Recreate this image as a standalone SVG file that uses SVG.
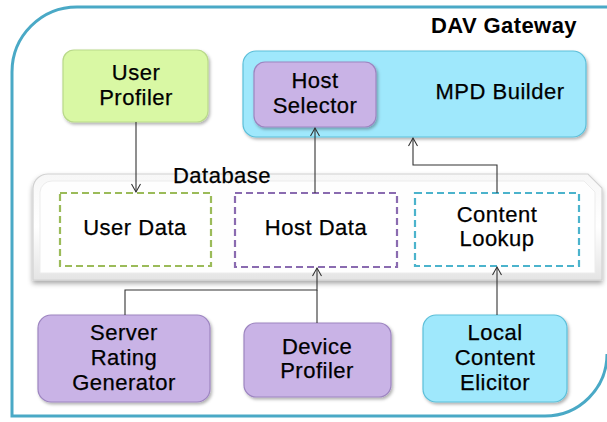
<svg xmlns="http://www.w3.org/2000/svg" width="607" height="422" viewBox="0 0 607 422">
<defs>
<style>
text{font-family:"Liberation Sans",Arial,sans-serif;font-size:22px;fill:#000;text-anchor:middle;letter-spacing:0.5px;stroke:#000;stroke-width:0.25}
.title{font-weight:bold;font-size:22px;letter-spacing:0.4px;stroke:none}
.conn{fill:none;stroke:#333;stroke-width:1.1}
.green{fill:#d9f8a4;stroke:#b9d98a;stroke-width:1.2}
.cyan{fill:#9fe8fc;stroke:#5cbfd9;stroke-width:1.2}
.lav{fill:#c9b3e6;stroke:#9d85c0;stroke-width:1.2}
.dash{fill:#fff;stroke-width:2.2;stroke-dasharray:7,4}
</style>
<marker id="arr" markerWidth="12" markerHeight="12" refX="10" refY="6" orient="auto" markerUnits="userSpaceOnUse">
<path d="M2,1.5 L10,6 L2,10.5" fill="none" stroke="#333" stroke-width="1.1"/>
</marker>
<filter id="sh" x="-10%" y="-10%" width="125%" height="130%">
<feDropShadow dx="1.5" dy="2" stdDeviation="1.5" flood-color="#000" flood-opacity="0.3"/>
</filter>
<filter id="dbsh" x="-5%" y="-10%" width="110%" height="130%">
<feDropShadow dx="0" dy="3" stdDeviation="2.5" flood-color="#000" flood-opacity="0.35"/>
</filter>
<linearGradient id="dbg" x1="0" y1="0" x2="0" y2="1">
<stop offset="0" stop-color="#f7f7f7"/>
<stop offset="0.5" stop-color="#ffffff"/>
<stop offset="1" stop-color="#e4e4e4"/>
</linearGradient>
</defs>

<g id="gateway">
<path d="M607,7 L77,7 A65,65 0 0 0 12,72 L12,416 L545,416 A62,62 0 0 0 607,354" fill="#fff" stroke="#4aa9c6" stroke-width="3"/>
<text class="title" x="504" y="33">DAV Gateway</text>
</g>

<g id="database">
<path d="M33,188 A15,15 0 0 1 48,174 L588,174 L602,188 L602,280 L33,280 Z" fill="url(#dbg)" stroke="#d2d2d2" stroke-width="1.2" filter="url(#dbsh)"/>
<path d="M40,192 A12,12 0 0 1 52,181 L584,181 L595,192 L595,273 L40,273 Z" fill="#fefefe" stroke="#ececec" stroke-width="1"/>
<text x="222" y="183">Database</text>
</g>

<g id="user-profiler">
<rect class="green" x="63" y="50" width="145" height="72" rx="11" filter="url(#sh)"/>
<text x="136" y="80">User</text>
<text x="136" y="105">Profiler</text>
</g>

<g id="mpd-builder">
<rect class="cyan" x="243" y="51" width="343" height="86" rx="13" filter="url(#sh)"/>
<text x="500" y="99">MPD Builder</text>
</g>

<g id="host-selector">
<rect class="lav" x="254" y="62" width="122" height="65" rx="11" filter="url(#sh)"/>
<text x="315" y="88">Host</text>
<text x="315" y="113">Selector</text>
</g>

<g id="user-data">
<rect class="dash" x="60" y="193" width="151" height="73" stroke="#9bbb59"/>
<text x="135" y="235">User Data</text>
</g>

<g id="host-data">
<rect class="dash" x="235" y="193" width="162" height="74" stroke="#8a6bb0"/>
<text x="316" y="235">Host Data</text>
</g>

<g id="content-lookup">
<rect class="dash" x="415" y="193" width="164" height="73" stroke="#4bb3cc"/>
<text x="497" y="222">Content</text>
<text x="497" y="246">Lookup</text>
</g>

<g id="server-rating-generator">
<rect class="lav" x="38" y="315" width="172" height="87" rx="13" filter="url(#sh)"/>
<text x="124" y="340">Server</text>
<text x="124" y="365">Rating</text>
<text x="124" y="390">Generator</text>
</g>

<g id="device-profiler">
<rect class="lav" x="244" y="323" width="147" height="74" rx="12" filter="url(#sh)"/>
<text x="317" y="354">Device</text>
<text x="317" y="378">Profiler</text>
</g>

<g id="local-content-elicitor">
<rect class="cyan" x="423" y="315" width="144" height="87" rx="13" filter="url(#sh)"/>
<text x="495" y="340">Local</text>
<text x="495" y="365">Content</text>
<text x="495" y="390">Elicitor</text>
</g>

<g id="connectors">
<path class="conn" d="M136,122 L136,192" marker-end="url(#arr)"/>
<path class="conn" d="M315,193 L315,128" marker-end="url(#arr)"/>
<path class="conn" d="M497,193 L497,165 L413,165 L413,138" marker-end="url(#arr)"/>
<path class="conn" d="M125,315 L125,290 L317,290 L317,268" marker-end="url(#arr)"/>
<path class="conn" d="M317,323 L317,290"/>
<path class="conn" d="M497,315 L497,267" marker-end="url(#arr)"/>
</g>
</svg>
